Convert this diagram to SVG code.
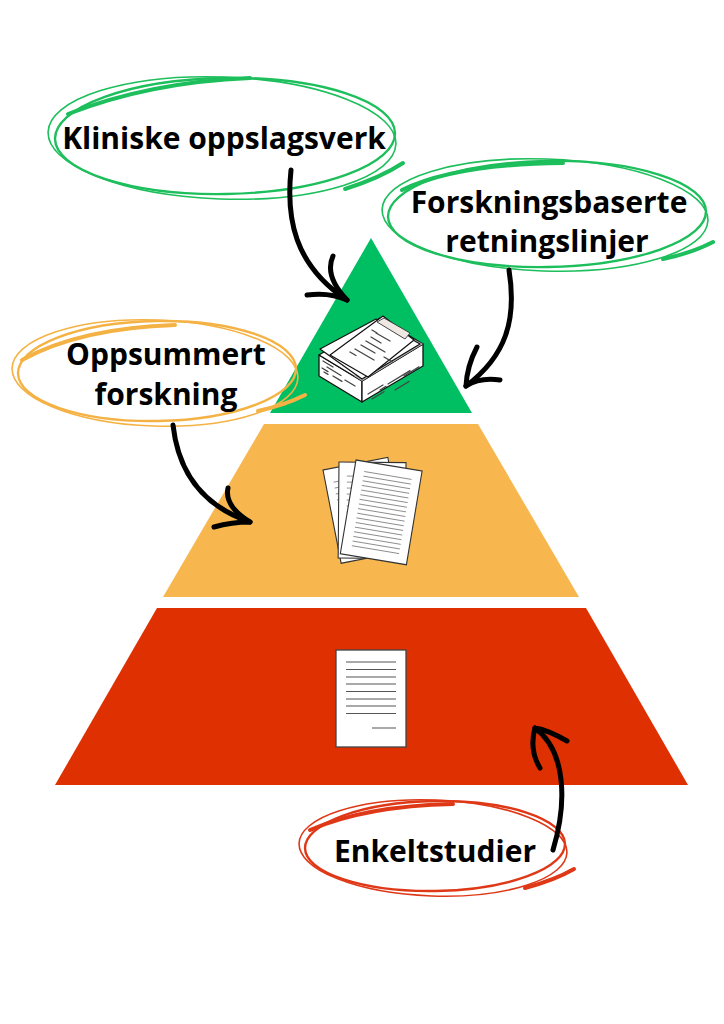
<svg xmlns="http://www.w3.org/2000/svg" width="724" height="1024" viewBox="0 0 724 1024">
<style>
.lbl{font-family:"Open Sans","Liberation Sans",sans-serif;font-weight:700;font-size:30px;fill:#000;text-anchor:middle}
.ring{fill:none;stroke-linecap:round}
.g{stroke:#1DBE5C}
.o{stroke:#F5B244}
.r{stroke:#DF3817}
.arrow{fill:none;stroke:#000;stroke-width:5;stroke-linecap:round;stroke-linejoin:round}
.ln{stroke:#444;stroke-width:1.3;stroke-linecap:round}
.gl{stroke:#888;stroke-width:0.9}
.sheet{fill:#fff;stroke:#333;stroke-width:1.1}
</style>
<rect width="724" height="1024" fill="#fff"/>

<g id="tier-top">
<polygon points="371,238 270,413 472,413" fill="#00BF63"/>
<g id="icon-stack">
<polygon points="319,355 362,381 362,402 319,376" fill="#fff" stroke="#111" stroke-width="1.3" stroke-linejoin="round"/>
<polygon points="362,381 423,344 423,366 362,402" fill="#fff" stroke="#111" stroke-width="1.3" stroke-linejoin="round"/>
<polygon points="319,355 362,381 423,344 380,318" fill="#fff" stroke="#111" stroke-width="1.3" stroke-linejoin="round"/>
<polygon points="354,376 362,381 423,344 415,340" fill="#b5b5b5"/>
<path class="ln" d="M323 361 l10 6 M327 367 l14 8.5 M322 368 l6 3.6 M333 376 l9 5.4 M345 380 l10 6 M324 372 l4 2.4"/>
<path class="ln" d="M368 394 l15 -9 M388 384 l22 -13.4 M395 390 l14 -8.5 M372 399 l12 -7.3 M404 376 l15 -9.1 M380 390 l6 -3.6"/>
<polygon points="320,349 376,319 420,344 362,379" fill="#fff" stroke="#111" stroke-width="1.2" stroke-linejoin="round"/>
<polygon points="330,355 383,316 414,340 368,377" fill="#fff" stroke="#111" stroke-width="1.2" stroke-linejoin="round"/>
<polygon points="377,322 384,318 410,333 405,339" fill="#EEE7E2" stroke="#333" stroke-width="0.9"/>
<path class="ln" d="M355 349 l19 11 M361 345 l14 8 M366 341 l19 11 M371 337 l10 6 M376 333 l14 8 M350 352 l6 3.5 M384 357 l8 4.6 M372 330 l5 3"/>
</g>
</g>

<g id="tier-middle">
<polygon points="264,424 478,424 579,597 163,597" fill="#F7B74E"/>
<g id="icon-sheets">
<g transform="translate(323,470) rotate(-11)">
<rect class="sheet" width="66" height="95"/>
<path class="gl" d="M8 14 h48 M8 20 h48 M8 26 h48 M8 32 h48 M8 38 h48 M8 44 h48"/>
</g>
<g transform="translate(339,462) rotate(0.5)">
<rect class="sheet" width="67" height="96"/>
<path class="gl" d="M8 14 h48 M8 20 h48 M8 26 h48 M8 32 h48 M8 38 h48 M8 44 h48 M8 50 h48"/>
</g>
<g transform="translate(356,460) rotate(9.5)">
<rect class="sheet" width="67" height="95"/>
<path class="gl" d="M10 10 h48 M10 14.7 h48 M10 19.4 h48 M10 24.1 h48 M10 28.8 h48 M10 33.5 h48 M10 38.2 h48 M10 42.9 h48 M10 47.6 h48 M10 52.3 h48 M10 57 h48 M10 61.7 h48 M10 66.4 h48 M10 71.1 h48 M10 75.8 h48 M10 80.5 h48 M10 85.2 h48"/>
</g>
</g>
</g>

<g id="tier-bottom">
<polygon points="157,608 586,608 688,785 55,785" fill="#DE3000"/>
<g id="icon-document">
<rect x="336" y="650" width="70" height="97" fill="#fff" stroke="#444" stroke-width="1.3"/>
<path stroke="#555" stroke-width="1.1" d="M346 662 h50 M346 669.5 h50 M346 677 h50 M346 684 h50 M346 691.5 h50 M346 699 h50 M346 706 h50 M346 713.5 h50 M372 728 h24"/>
</g>
</g>

<g id="label-kliniske">
<ellipse class="ring g" cx="222" cy="138" rx="174" ry="61" stroke-width="1.6" transform="rotate(2 222 138)"/>
<ellipse class="ring g" cx="225" cy="136" rx="170" ry="58" stroke-width="2.4" transform="rotate(-1 225 136)"/>
<path class="ring g" stroke-width="4" d="M250 78 Q150 82 68 114"/>
<path class="ring g" stroke-width="4" d="M403 163 Q380 178 345 189"/>
<text class="lbl" x="224" y="149">Kliniske oppslagsverk</text>
</g>

<g id="label-forskningsbaserte">
<ellipse class="ring g" cx="545" cy="215" rx="163" ry="56" stroke-width="1.6" transform="rotate(2 545 215)"/>
<ellipse class="ring g" cx="547" cy="214" rx="159" ry="53" stroke-width="2.4" transform="rotate(-1 547 214)"/>
<path class="ring g" stroke-width="4" d="M563 163 Q455 164 402 190"/>
<path class="ring g" stroke-width="4" d="M713 242 Q692 253 663 259"/>
<text class="lbl" x="549" y="213">Forskningsbaserte</text>
<text class="lbl" x="547" y="252">retningslinjer</text>
</g>

<g id="label-oppsummert">
<ellipse class="ring o" cx="155" cy="373" rx="143" ry="53" stroke-width="1.6" transform="rotate(2 155 373)"/>
<ellipse class="ring o" cx="157" cy="371" rx="139" ry="50" stroke-width="2.4" transform="rotate(-1 157 371)"/>
<path class="ring o" stroke-width="4" d="M175 325 Q80 328 22 360"/>
<path class="ring o" stroke-width="4" d="M305 395 Q285 405 258 411"/>
<text class="lbl" x="166" y="365">Oppsummert</text>
<text class="lbl" x="166" y="405">forskning</text>
</g>

<g id="label-enkeltstudier">
<ellipse class="ring r" cx="433" cy="848" rx="134" ry="48" stroke-width="1.6" transform="rotate(2 433 848)"/>
<ellipse class="ring r" cx="435" cy="846" rx="130" ry="45" stroke-width="2.4" transform="rotate(-1 435 846)"/>
<path class="ring r" stroke-width="4" d="M453 804 Q365 806 310 830"/>
<path class="ring r" stroke-width="4" d="M574 869 Q555 880 525 888"/>
<text class="lbl" x="435" y="862">Enkeltstudier</text>
</g>

<g id="connectors">
<path class="arrow" d="M291 170 C286 218 294 265 347 300"/>
<path class="arrow" d="M333 256 Q324 276 347 300 M307 295 Q330 292 347 300"/>
<path class="arrow" d="M509 270 C517 320 506 356 466 386"/>
<path class="arrow" d="M477 347 Q467 366 466 386 M500 380 Q480 377 466 386"/>
<path class="arrow" d="M173 425 C178 470 200 505 250 522"/>
<path class="arrow" d="M228 488 Q224 506 250 522 M214 527 Q232 522 250 522"/>
<path class="arrow" d="M553 850 C568 800 565 750 535 728"/>
<path class="arrow" d="M567 741 Q548 730 535 728 M540 768 Q529 750 535 728"/>
</g>
</svg>
